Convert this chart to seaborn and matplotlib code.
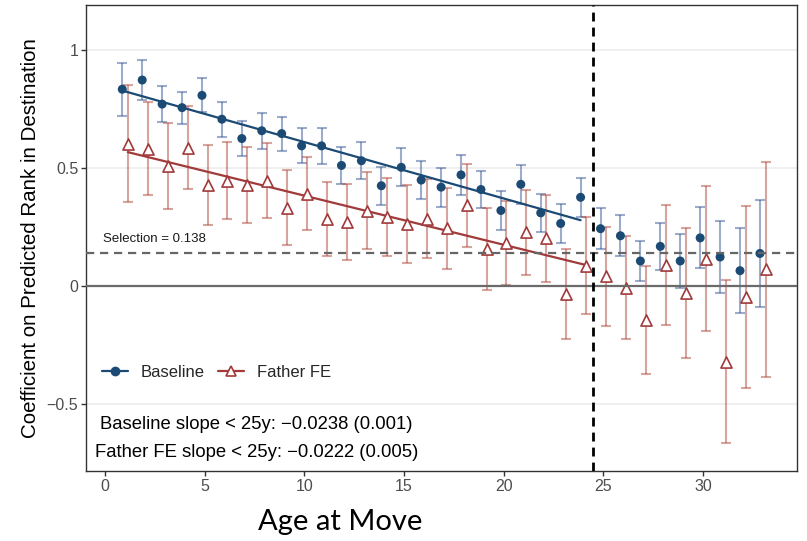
import numpy as np
import pandas as pd
import matplotlib
matplotlib.use("Agg")
import matplotlib.pyplot as plt
from matplotlib.lines import Line2D
import seaborn as sns

# ---------------- data ----------------
ages = list(range(1, 34))
baseline = [0.833, 0.872, 0.770, 0.755, 0.807, 0.706, 0.624, 0.657, 0.645, 0.593,
            0.593, 0.510, 0.530, 0.424, 0.502, 0.448, 0.418, 0.470, 0.408, 0.319,
            0.430, 0.309, 0.264, 0.375, 0.242, 0.212, 0.105, 0.167, 0.105, 0.203,
            0.122, 0.064, 0.137]
baseline_ci = [0.112, 0.085, 0.076, 0.068, 0.072, 0.074, 0.076, 0.076, 0.072, 0.074,
               0.075, 0.078, 0.079, 0.081, 0.080, 0.082, 0.082, 0.084, 0.080, 0.082,
               0.083, 0.081, 0.082, 0.083, 0.087, 0.087, 0.083, 0.099, 0.113, 0.129,
               0.152, 0.180, 0.226]
father = [0.603, 0.580, 0.507, 0.586, 0.427, 0.445, 0.427, 0.445, 0.331, 0.391,
          0.283, 0.270, 0.318, 0.292, 0.261, 0.285, 0.243, 0.342, 0.154, 0.182,
          0.226, 0.201, -0.035, 0.085, 0.041, -0.008, -0.145, 0.088, -0.032, 0.114,
          -0.322, -0.047, 0.069]
father_ci = [0.249, 0.197, 0.182, 0.175, 0.168, 0.163, 0.163, 0.159, 0.158, 0.155,
             0.157, 0.162, 0.164, 0.165, 0.165, 0.168, 0.172, 0.176, 0.174, 0.177,
             0.181, 0.185, 0.190, 0.206, 0.210, 0.219, 0.227, 0.254, 0.275, 0.307,
             0.345, 0.386, 0.454]
series_names = ["Baseline", "Father FE"]
selection = 0.138
cutoff_age = 24.5
xtick_vals = [0, 5, 10, 15, 20, 25, 30]
ytick_vals = [-0.5, 0, 0.5, 1]
ytick_labels = ["\u22120.5", "0", "0.5", "1"]
slope_labels = ["Baseline slope < 25y: \u22120.0238 (0.001)",
                "Father FE slope < 25y: \u22120.0222 (0.005)"]
selection_label = "Selection = 0.138"
ylabel = "Coefficient on Predicted Rank in Destination"
xlabel = "Age at Move"

# ---------------- style ----------------
blue = "#1b4a74"
red = "#a13a3a"
dodge = 0.14

sns.set_theme(style="white")
plt.rcParams["font.family"] = ["Liberation Sans", "DejaVu Sans"]

W, H = 807, 541
fig = plt.figure(figsize=(W / 100, H / 100), dpi=100)
ax = fig.add_axes([86 / W, 1 - 471 / H, (797 - 86) / W, (471 - 5) / H])

df = pd.DataFrame({"age": ages, "baseline": baseline, "baseline_ci": baseline_ci,
                   "father": father, "father_ci": father_ci})
df["xb"] = df["age"] - dodge
df["xf"] = df["age"] + dodge
pre = df[df["age"] < 25]

# error bars
ax.errorbar(df["xb"], df["baseline"], yerr=df["baseline_ci"], fmt="none",
            ecolor="#3a5a96", alpha=0.5, elinewidth=1.5, capsize=3.6, capthick=1.5, zorder=2)
ax.errorbar(df["xf"], df["father"], yerr=df["father_ci"], fmt="none",
            ecolor="#b04a3e", alpha=0.5, elinewidth=1.5, capsize=3.6, capthick=1.5, zorder=2)

# fitted lines (< 25y)
sns.regplot(data=pre, x="xb", y="baseline", scatter=False, ci=None, ax=ax,
            color=blue, line_kws={"lw": 1.6, "zorder": 3})
sns.regplot(data=pre, x="xf", y="father", scatter=False, ci=None, ax=ax,
            color=red, line_kws={"lw": 1.6, "zorder": 3})

# points
sns.scatterplot(data=df, x="xb", y="baseline", ax=ax, color=blue, s=42,
                edgecolor="none", zorder=4)
sns.scatterplot(data=df, x="xf", y="father", ax=ax, marker="^", s=64,
                color="white", edgecolor=red, linewidth=1.2, zorder=4)

# reference lines
ax.axhline(0, color="#6a6a6a", lw=1.6, zorder=5)
ax.axhline(selection, color="#666666", lw=1.6, ls=(0, (3.7, 2.6)), zorder=5)
ax.axvline(cutoff_age, color="black", lw=2.0, ls=(0, (3.2, 2.2)), zorder=6)

# annotations
ax.text(-0.13, 0.20, selection_label, fontsize=9.5, ha="left", va="center", color="#1a1a1a")
ax.text(7.57, -0.59, slope_labels[0], fontsize=13.3, ha="center", va="center", color="black")
ax.text(7.62, -0.705, slope_labels[1], fontsize=13.3, ha="center", va="center", color="black")

# axes
ax.set_xlim(-0.96, 34.72)
ax.set_ylim(-0.785, 1.19)
ax.set_xticks(xtick_vals)
ax.set_yticks(ytick_vals)
ax.set_yticklabels(ytick_labels)
ax.set_xlabel("")
ax.set_ylabel(ylabel, fontsize=14.8, color="black", labelpad=5)
ax.set_axisbelow(True)
ax.yaxis.grid(True, color="#ebebeb", lw=1.1)
ax.xaxis.grid(False)
for sp in ax.spines.values():
    sp.set_color("#333333")
    sp.set_linewidth(1.0)
ax.tick_params(direction="out", length=3.5, width=1, color="#333333",
               labelcolor="#4d4d4d", labelsize=11.5, pad=2,
               bottom=True, left=True)

# legend
handles = [Line2D([], [], color=blue, marker="o", markersize=6, lw=1.6),
           Line2D([], [], color=red, marker="^", markersize=7.8, lw=1.6,
                  markerfacecolor="white", markeredgecolor=red, markeredgewidth=1.2)]
ax.legend(handles, series_names, loc="center left", ncol=2, frameon=False,
          bbox_to_anchor=(101.7 / W, 1 - 372.7 / H), bbox_transform=fig.transFigure,
          fontsize=12, handlelength=1.55, handletextpad=0.8, columnspacing=0.8,
          borderpad=0, borderaxespad=0)

fig.text(340 / W, 1 - 522 / H, xlabel, fontsize=21, family=["Lato", "DejaVu Sans"],
         ha="center", va="center", color="black")

fig.savefig("out.png", dpi=100)
